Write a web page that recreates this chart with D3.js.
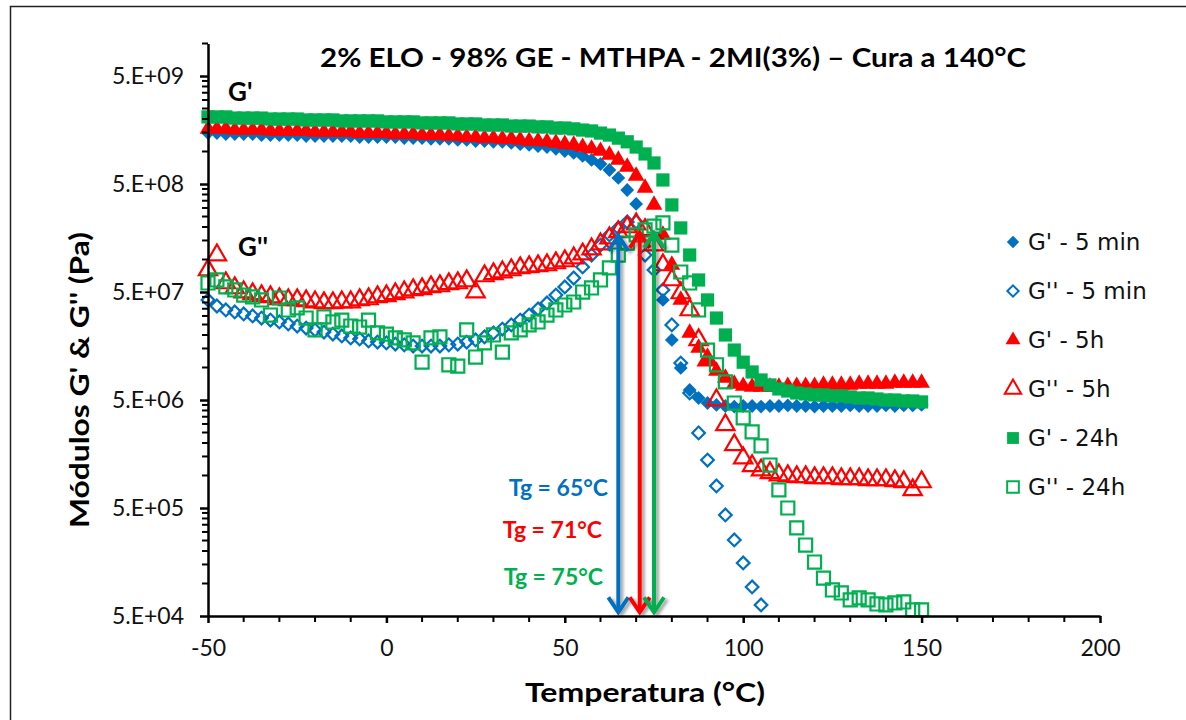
<!DOCTYPE html>
<html>
<head>
<meta charset="utf-8">
<script src="https://cdn.jsdelivr.net/npm/d3@7"></script>
<style>
  body { margin: 0; background: #fff; }
  svg { display: block; }
</style>
</head>
<body>
<svg id="chart" width="1186" height="720"></svg>
<script>
// temperatures (°C) shared by all series
var temps = [-50, -47.5, -45, -42.5, -40, -37.5, -35, -32.5, -30, -27.5, -25, -22.5, -20, -17.5, -15, -12.5, -10, -7.5, -5, -2.5,
  0, 2.5, 5, 7.5, 10, 12.5, 15, 17.5, 20, 22.5, 25, 27.5, 30, 32.5, 35, 37.5, 40, 42.5, 45, 47.5,
  50, 52.5, 55, 57.5, 60, 62.5, 65, 67.5, 70, 72.5, 75, 77.5, 80, 82.5, 85, 87.5, 90, 92.5, 95, 97.5,
  100, 102.5, 105, 107.5, 110, 112.5, 115, 117.5, 120, 122.5, 125, 127.5, 130, 132.5, 135, 137.5, 140, 142.5, 145, 147.5, 150];

// G' - 5 min (Pa)
var gp5min = [1.48e9, 1.48e9, 1.45e9, 1.45e9, 1.45e9, 1.45e9, 1.42e9, 1.42e9, 1.42e9, 1.42e9, 1.42e9, 1.39e9, 1.39e9, 1.39e9, 1.39e9, 1.39e9, 1.39e9, 1.36e9, 1.36e9, 1.36e9,
  1.36e9, 1.36e9, 1.33e9, 1.33e9, 1.33e9, 1.31e9, 1.31e9, 1.31e9, 1.28e9, 1.28e9, 1.25e9, 1.25e9, 1.23e9, 1.23e9, 1.20e9, 1.17e9, 1.15e9, 1.12e9, 1.10e9, 1.06e9,
  1.01e9, 9.69e8, 9.09e8, 8.35e8, 7.66e8, 6.74e8, 5.69e8, 4.40e8, 3.27e8, null, null, 4.22e7, 1.80e7, 9.90e6, 6.19e6, 5.22e6, 4.69e6, 4.50e6, 4.40e6, 4.35e6,
  4.40e6, 4.40e6, 4.35e6, 4.40e6, 4.40e6, 4.45e6, 4.40e6, 4.40e6, 4.35e6, 4.40e6, 4.40e6, 4.40e6, 4.45e6, 4.40e6, 4.40e6, 4.40e6, 4.45e6, 4.40e6, 4.45e6, 4.45e6, 4.50e6];

// G'' - 5 min (Pa)
var gpp5min = [4.22e7, 3.71e7, 3.41e7, 3.27e7, 3.13e7, 3.00e7, 2.87e7, 2.75e7, 2.64e7, 2.53e7, 2.42e7, 2.32e7, 2.23e7, 2.13e7, 2.04e7, 1.96e7, 1.88e7, 1.84e7, 1.76e7, 1.72e7,
  1.69e7, 1.65e7, 1.62e7, 1.58e7, 1.58e7, 1.58e7, 1.58e7, 1.62e7, 1.65e7, 1.72e7, 1.80e7, 1.92e7, 2.09e7, 2.27e7, 2.48e7, 2.75e7, 3.06e7, 3.48e7, 3.96e7, 4.69e7,
  5.57e7, 6.74e7, 8.53e7, 1.10e8, 1.36e8, 1.69e8, 1.96e8, 2.23e8, 2.23e8, 1.10e8, 8.00e7, 5.22e7, 2.48e7, 1.10e7, 5.81e6, 2.48e6, 1.39e6, 8.00e5, 4.31e5, 2.53e5,
  1.55e5, 9.29e4, 6.33e4, null, null, null, null, null, null, null, null, null, null, null, null, null, null, null, null, null, null];

// G' - 5h (Pa)
var gp5h = [1.62e9, 1.62e9, 1.62e9, 1.58e9, 1.58e9, 1.58e9, 1.58e9, 1.55e9, 1.55e9, 1.55e9, 1.55e9, 1.55e9, 1.52e9, 1.52e9, 1.52e9, 1.52e9, 1.52e9, 1.48e9, 1.48e9, 1.48e9,
  1.48e9, 1.45e9, 1.45e9, 1.45e9, 1.42e9, 1.42e9, 1.42e9, 1.39e9, 1.39e9, 1.36e9, 1.36e9, 1.33e9, 1.33e9, 1.31e9, 1.31e9, 1.28e9, 1.25e9, 1.25e9, 1.23e9, 1.20e9,
  1.17e9, 1.15e9, 1.10e9, 1.06e9, 1.01e9, 9.29e8, 8.35e8, 7.19e8, 5.94e8, 4.60e8, 3.20e8, 1.69e8, 8.90e7, 4.22e7, 2.09e7, 1.52e7, 1.17e7, 9.29e6, 8.00e6, 7.04e6,
  6.74e6, 6.60e6, 6.60e6, 6.60e6, 6.60e6, 6.74e6, 6.74e6, 6.74e6, 6.74e6, 6.89e6, 6.89e6, 6.89e6, 6.89e6, 7.04e6, 7.04e6, 7.04e6, 7.04e6, 7.19e6, 7.19e6, 7.19e6, 7.19e6];

// G'' - 5h (Pa)
var gpp5h = [8.00e7, 1.10e8, 6.06e7, 5.45e7, 5.00e7, 4.80e7, 4.60e7, 4.50e7, 4.31e7, 4.22e7, 4.22e7, 4.13e7, 4.04e7, 3.96e7, 3.96e7, 4.04e7, 4.04e7, 4.22e7, 4.31e7, 4.50e7,
  4.60e7, 4.80e7, 5.00e7, 5.22e7, 5.34e7, 5.57e7, 5.69e7, 5.94e7, 6.06e7, 6.33e7, 5.00e7, 7.04e7, 7.35e7, 7.66e7, 8.00e7, 8.35e7, 8.53e7, 8.71e7, 8.90e7, 9.29e7,
  9.69e7, 1.03e8, 1.12e8, 1.25e8, 1.39e8, 1.58e8, 1.80e8, 2.00e8, 2.13e8, 1.88e8, 1.36e8, 8.90e7, 6.46e7, 4.90e7, 3.41e7, 1.80e7, 1.17e7, 5.00e6, 2.94e6, 1.92e6,
  1.45e6, 1.23e6, 1.12e6, 1.06e6, 1.01e6, 9.90e5, 9.69e5, 9.69e5, 9.49e5, 9.49e5, 9.49e5, 9.29e5, 9.29e5, 9.29e5, 9.09e5, 9.09e5, 9.09e5, 8.90e5, 8.71e5, 7.35e5, 8.71e5];

// G' - 24h (Pa)
var gp24h = [2.09e9, 2.09e9, 2.09e9, 2.04e9, 2.04e9, 2.04e9, 2.04e9, 2.00e9, 2.00e9, 2.00e9, 2.00e9, 1.96e9, 1.96e9, 1.96e9, 1.96e9, 1.92e9, 1.92e9, 1.92e9, 1.92e9, 1.92e9,
  1.88e9, 1.88e9, 1.88e9, 1.88e9, 1.84e9, 1.84e9, 1.84e9, 1.84e9, 1.80e9, 1.80e9, 1.80e9, 1.76e9, 1.76e9, 1.76e9, 1.72e9, 1.72e9, 1.72e9, 1.69e9, 1.69e9, 1.65e9,
  1.65e9, 1.62e9, 1.58e9, 1.55e9, 1.48e9, 1.42e9, 1.33e9, 1.23e9, 1.10e9, 9.49e8, 7.83e8, 5.45e8, 3.20e8, 1.96e8, 1.10e8, 6.46e7, 4.22e7, 2.87e7, 2.00e7, 1.45e7,
  1.12e7, 9.09e6, 7.66e6, 6.89e6, 6.33e6, 6.06e6, 5.81e6, 5.69e6, 5.57e6, 5.57e6, 5.45e6, 5.45e6, 5.34e6, 5.22e6, 5.22e6, 5.11e6, 5.00e6, 5.00e6, 4.90e6, 4.90e6, 4.80e6];

// G'' - 24h (Pa)
var gpp24h = [6.06e7, 6.46e7, 5.57e7, 5.22e7, 4.69e7, 4.50e7, 4.22e7, 3.06e7, 4.40e7, 3.41e7, 3.56e7, 2.87e7, 2.23e7, 2.94e7, 2.64e7, 2.75e7, 2.42e7, 2.37e7, 2.75e7, 2.09e7,
  2.04e7, 1.88e7, 1.80e7, 1.69e7, 1.12e7, 1.88e7, 1.92e7, 1.06e7, 1.03e7, 2.23e7, 1.25e7, 1.69e7, 2.00e7, 1.39e7, 2.09e7, 2.23e7, 2.48e7, 2.64e7, 3.06e7, 3.41e7,
  3.79e7, 4.04e7, 5.00e7, 5.45e7, 6.46e7, 8.35e7, 1.10e8, 1.42e8, 1.69e8, 1.88e8, 2.04e8, 2.18e8, 1.36e8, 7.66e7, 6.06e7, 3.41e7, 1.45e7, 1.06e7, 7.35e6, 4.69e6,
  3.41e6, 2.53e6, 1.88e6, 1.25e6, 7.35e5, 5.00e5, 3.27e5, 2.27e5, 1.58e5, 1.12e5, 8.71e4, 8.17e4, 7.04e4, 7.35e4, 7.04e4, 6.46e4, 6.33e4, 6.60e4, 6.74e4, 5.69e4, 5.69e4];

var yTicks = [5e4, 5e5, 5e6, 5e7, 5e8, 5e9];
var xTicks = [-50, 0, 50, 100, 150, 200];
var tgTemps = [65, 71, 75];
var tgLabels = ['Tg = 65°C', 'Tg = 71°C', 'Tg = 75°C'];
var tgTop = [1.69e8, 1.80e8, 1.80e8];
var tgBottom = 5.3e4;

var svg = d3.select('#chart');

var xScale = d3.scaleLinear().domain([-50, 200]).range([208, 1100]);
var yScale = d3.scaleLog().domain([5e4, 1e10]).range([616, 43.5]);

var blue = '#0070C0', red = '#FF0000', green = '#00B050';

var series = [
  { name: "G' - 5 min", values: gp5min, shape: 'diamond', filled: true, color: blue, size: 95 },
  { name: "G'' - 5 min", values: gpp5min, shape: 'diamond', filled: false, color: blue, size: 80 },
  { name: "G' - 5h", values: gp5h, shape: 'triangle', filled: true, color: red, size: 120 },
  { name: "G'' - 5h", values: gpp5h, shape: 'triangle', filled: false, color: red, size: 145 },
  { name: "G' - 24h", values: gp24h, shape: 'square', filled: true, color: green, size: 175 },
  { name: "G'' - 24h", values: gpp24h, shape: 'square', filled: false, color: green, size: 170 }
];

// outer frame
svg.append('rect')
  .attr('x', 10.5).attr('y', 6.5)
  .attr('width', 1200).attr('height', 800)
  .attr('fill', 'none')
  .attr('stroke', '#222')
  .attr('stroke-width', 1.5);

var defs = svg.append('defs');
var shadow = defs.append('filter').attr('id', 'shadow')
  .attr('x', '-50%').attr('y', '-10%').attr('width', '200%').attr('height', '120%');
shadow.append('feDropShadow')
  .attr('dx', 3).attr('dy', 2)
  .attr('stdDeviation', 1.6)
  .attr('flood-color', '#000')
  .attr('flood-opacity', 0.35);

function symbolPath(s, scale) {
  var type = s.shape === 'triangle' ? d3.symbolTriangle : d3.symbolSquare;
  return d3.symbol().type(type).size(s.size * (scale || 1))();
}

// data points
series.forEach(function (s) {
  var pts = temps.map(function (t, i) {
    return { t: t, v: s.values[i] };
  }).filter(function (d) { return d.v != null; });

  svg.append('g')
    .selectAll('path')
    .data(pts)
    .enter()
    .append('path')
    .attr('d', symbolPath(s))
    .attr('transform', function (d) {
      var tr = 'translate(' + xScale(d.t) + ',' + yScale(d.v) + ')';
      return s.shape === 'diamond' ? tr + ' rotate(45)' : tr;
    })
    .attr('fill', s.filled ? s.color : 'none')
    .attr('stroke', s.filled ? 'none' : s.color)
    .attr('stroke-width', s.filled ? 0 : 2.2);
});

// Tg arrows
var arrowColors = [blue, red, green];
tgTemps.forEach(function (t, i) {
  var x = xScale(t);
  var y0 = yScale(tgTop[i]);
  var y1 = yScale(tgBottom);
  var g = svg.append('g').attr('filter', 'url(#shadow)')
    .attr('stroke', arrowColors[i])
    .attr('stroke-width', 4)
    .attr('fill', 'none');
  g.append('line').attr('x1', x).attr('x2', x).attr('y1', y0 + 2).attr('y2', y1 - 2);
  g.append('path').attr('d', 'M' + (x - 10) + ',' + (y0 + 16) + 'L' + x + ',' + (y0 + 1) + 'L' + (x + 10) + ',' + (y0 + 16));
  g.append('path').attr('d', 'M' + (x - 10) + ',' + (y1 - 16) + 'L' + x + ',' + (y1 - 1) + 'L' + (x + 10) + ',' + (y1 - 16));
});

svg.selectAll('.tg')
  .data(tgLabels)
  .enter()
  .append('text')
  .attr('class', 'tg')
  .attr('x', function (d, i) { return [608, 602, 603][i]; })
  .attr('y', function (d, i) { return [496, 538, 585][i]; })
  .attr('text-anchor', 'end')
  .attr('font-family', 'Lato, "Open Sans", sans-serif')
  .attr('font-weight', 'bold')
  .attr('font-size', '23px')
  .attr('fill', function (d, i) { return arrowColors[i]; })
  .text(function (d) { return d; });

// axes
var fontReg = 'Lato, "DejaVu Sans", sans-serif';

var yAxis = d3.axisLeft(yScale)
  .tickValues(yTicks)
  .tickSize(8)
  .tickSizeOuter(0)
  .tickPadding(16)
  .tickFormat(function (d) {
    var e = Math.round(Math.log10(d / 5));
    return '5.E+' + (e < 10 ? '0' + e : e);
  });

var gy = svg.append('g').attr('transform', 'translate(208,0)').call(yAxis);
gy.select('.domain').attr('stroke', '#000').attr('stroke-width', 2.5);
gy.selectAll('.tick line').attr('stroke', '#000').attr('stroke-width', 2.5);
gy.selectAll('.tick text').attr('font-family', fontReg).attr('font-size', '23px').attr('fill', '#111');

// minor log ticks
var minorY = [];
yTicks.forEach(function (b) {
  [2, 3, 4, 5, 6, 7, 8, 9].forEach(function (k) {
    if (b * k <= 1e10) minorY.push(b * k);
  });
});
svg.append('g').selectAll('line').data(minorY).enter().append('line')
  .attr('x1', 202).attr('x2', 208)
  .attr('y1', function (d) { return yScale(d); })
  .attr('y2', function (d) { return yScale(d); })
  .attr('stroke', '#000').attr('stroke-width', 2);

var xAxis = d3.axisBottom(xScale)
  .tickValues(xTicks)
  .tickSize(7)
  .tickSizeOuter(0)
  .tickPadding(17)
  .tickFormat(function (d) { return String(d); });

var gx = svg.append('g').attr('transform', 'translate(0,616)').call(xAxis);
gx.select('.domain').attr('stroke', '#000').attr('stroke-width', 2.5);
gx.selectAll('.tick line').attr('stroke', '#000').attr('stroke-width', 2.5);
gx.selectAll('.tick text').attr('font-family', fontReg).attr('font-size', '23px').attr('fill', '#111');

var minorX = d3.range(-40, 200, 10).filter(function (d) { return d % 50 !== 0; });
svg.append('g').selectAll('line').data(minorX).enter().append('line')
  .attr('x1', function (d) { return xScale(d); })
  .attr('x2', function (d) { return xScale(d); })
  .attr('y1', 616).attr('y2', 622)
  .attr('stroke', '#000').attr('stroke-width', 2);

// titles
var fontBold = 'Lato, "DejaVu Sans", sans-serif';
svg.append('text')
  .attr('x', 673).attr('y', 67)
  .attr('text-anchor', 'middle')
  .attr('font-family', fontBold).attr('font-weight', 'bold').attr('font-size', '27px')
  .attr('textLength', 706).attr('lengthAdjust', 'spacingAndGlyphs')
  .text('2% ELO - 98% GE - MTHPA - 2MI(3%) – Cura a 140°C');

svg.append('text')
  .attr('x', 645).attr('y', 702)
  .attr('text-anchor', 'middle')
  .attr('font-family', fontBold).attr('font-weight', 'bold').attr('font-size', '27px')
  .attr('textLength', 240).attr('lengthAdjust', 'spacingAndGlyphs')
  .text('Temperatura (°C)');

svg.append('text')
  .attr('transform', 'translate(89,380) rotate(-90)')
  .attr('text-anchor', 'middle')
  .attr('font-family', fontBold).attr('font-weight', 'bold').attr('font-size', '27px')
  .attr('textLength', 296).attr('lengthAdjust', 'spacingAndGlyphs')
  .text("Módulos G' & G'' (Pa)");

svg.append('text')
  .attr('x', 228).attr('y', 101)
  .attr('font-family', fontBold).attr('font-weight', 'bold').attr('font-size', '26px')
  .text("G'");

svg.append('text')
  .attr('x', 238).attr('y', 256)
  .attr('font-family', fontBold).attr('font-weight', 'bold').attr('font-size', '26px')
  .text("G''");

// legend
var legend = svg.append('g').attr('transform', 'translate(1013,242)');
var rows = legend.selectAll('g').data(series).enter().append('g')
  .attr('transform', function (d, i) { return 'translate(0,' + (i * 49) + ')'; });
rows.append('path')
  .attr('d', function (d) { return symbolPath(d, 0.8); })
  .attr('transform', function (d) { return d.shape === 'diamond' ? 'rotate(45)' : null; })
  .attr('fill', function (d) { return d.filled ? d.color : 'none'; })
  .attr('stroke', function (d) { return d.filled ? 'none' : d.color; })
  .attr('stroke-width', 2);
rows.append('text')
  .attr('x', 15).attr('y', 8)
  .attr('font-family', '"DejaVu Sans", sans-serif')
  .attr('font-size', '23px')
  .attr('fill', '#111')
  .text(function (d) { return d.name; });
</script>
</body>
</html>
